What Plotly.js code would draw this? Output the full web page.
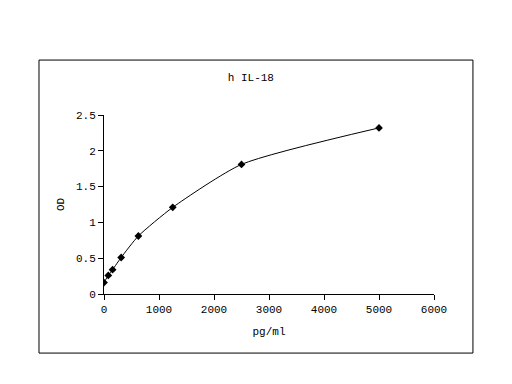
<!DOCTYPE html>
<html><head><meta charset="utf-8">
<script src="https://cdn.plot.ly/plotly-3.0.1.min.js"></script>
<style>html,body{margin:0;padding:0;background:#fff}#c{width:512px;height:384px}</style>
</head><body><div id="c"></div>
<script>
var conc = [0, 78, 156, 312, 625, 1250, 2500, 5000];
var od = [0.16, 0.26, 0.34, 0.51, 0.81, 1.21, 1.81, 2.32];
var xTicks = [0, 1000, 2000, 3000, 4000, 5000, 6000];
var yTicks = [0, 0.5, 1, 1.5, 2, 2.5];
var F = "'Liberation Mono', 'DejaVu Sans Mono', monospace";
var trace = {
  x: conc, y: od, type: 'scatter', mode: 'lines+markers',
  line: {color: '#000', width: 1, shape: 'spline', smoothing: 0.6},
  marker: {symbol: 'diamond', size: 6, color: '#000'}
};
var layout = {
  width: 512, height: 384,
  margin: {l: 104, r: 78, t: 115, b: 90},
  paper_bgcolor: '#fff', plot_bgcolor: '#fff',
  showlegend: false,
  font: {family: F, size: 11, color: '#000'},
  title: {text: 'h IL-18', x: 0.445, xref: 'paper', xanchor: 'center', y: 0.81, yref: 'container', font: {family: F, size: 11, color: '#000'}},
  xaxis: {range: [0, 6000], tickvals: xTicks, ticktext: xTicks.map(String), showgrid: false, zeroline: false,
    showline: true, linecolor: '#000', linewidth: 1, ticks: 'outside', ticklen: 5, tickcolor: '#000',
    title: {text: 'pg/ml', standoff: 12, font: {family: F, size: 11}}, fixedrange: true},
  yaxis: {range: [0, 2.5], tickvals: yTicks, ticktext: yTicks.map(String), showgrid: false, zeroline: false,
    showline: true, linecolor: '#000', linewidth: 1, ticks: 'outside', ticklen: 5, tickcolor: '#000',
    title: {text: 'OD', standoff: 9, font: {family: F, size: 11}}, fixedrange: true},
  shapes: [{type: 'rect', xref: 'paper', yref: 'paper', x0: -0.197, x1: 1.118, y0: -0.330, y1: 1.307,
    line: {color: '#000', width: 1}, fillcolor: 'rgba(0,0,0,0)'}]
};
Plotly.newPlot('c', [trace], layout, {displayModeBar: false, staticPlot: true});
</script></body></html>
